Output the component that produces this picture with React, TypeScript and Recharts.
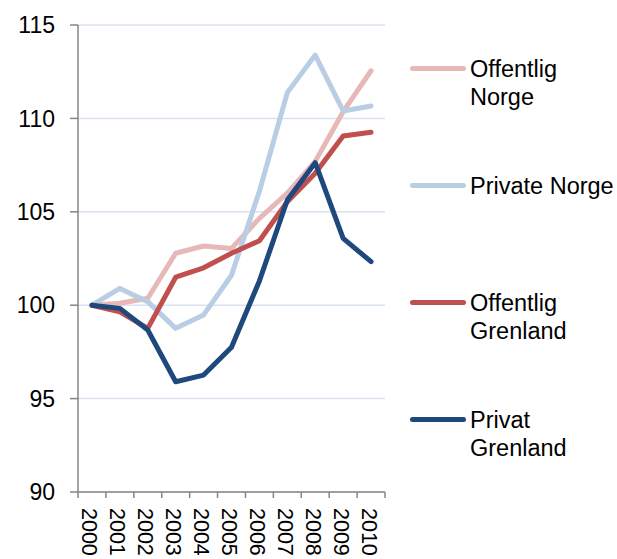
import { LineChart, Line, XAxis, YAxis, CartesianGrid, Legend } from "recharts";

const years = ["2000", "2001", "2002", "2003", "2004", "2005", "2006", "2007", "2008", "2009", "2010"];
const offentligNorge = [100, 100.1, 100.37, 102.78, 103.17, 103.04, 104.65, 106.0, 107.7, 110.36, 112.55];
const privateNorge = [100, 100.9, 100.19, 98.76, 99.48, 101.6, 106.1, 111.38, 113.39, 110.4, 110.66];
const offentligGrenland = [100, 99.65, 98.76, 101.5, 102.0, 102.78, 103.45, 105.54, 107.06, 109.06, 109.26];
const privatGrenland = [100, 99.83, 98.67, 95.9, 96.26, 97.75, 101.3, 105.63, 107.63, 103.58, 102.33];
const yTicks = [90, 95, 100, 105, 110, 115];
// tick marks sit between the years, labels sit on them
const xTicks = Array.from({ length: 23 }, (_, k) => k / 2 - 0.5);

const SERIES = [
  { key: "offNorge", name: "Offentlig Norge", color: "#e6b9b8", values: offentligNorge },
  { key: "privNorge", name: "Private Norge", color: "#b9cde5", values: privateNorge },
  { key: "offGrenland", name: "Offentlig Grenland", color: "#c0504d", values: offentligGrenland },
  { key: "privGrenland", name: "Privat Grenland", color: "#1f497d", values: privatGrenland },
];

const data = years.map((year, i) => {
  const row: Record<string, number | string> = { i, year };
  SERIES.forEach((s) => (row[s.key] = s.values[i]));
  return row;
});

const FONT = "'Liberation Sans', Arial, sans-serif";
const AXIS = "#868686";

function YearTick({ x, y, payload }: any) {
  const v = payload.value as number;
  if (!Number.isInteger(v)) {
    return <line x1={x} y1={y} x2={x} y2={y + 6} stroke={AXIS} strokeWidth={1.5} />;
  }
  return (
    <text
      transform={`translate(${x - 2},${y + 16}) rotate(90)`}
      dy="0.35em"
      fontSize={21.5}
      fontFamily={FONT}
      fill="#000"
    >
      {years[v]}
    </text>
  );
}

function LegendBox({ payload }: any) {
  const order = SERIES.map((s) => s.name);
  const items = [...(payload || [])].sort((a: any, b: any) => order.indexOf(a.value) - order.indexOf(b.value));
  return (
    <div style={{ fontFamily: FONT, fontSize: 23.5, lineHeight: "28px", color: "#000" }}>
      {items.map((p: any) => (
        <div key={p.value} style={{ height: 117, display: "flex", alignItems: "flex-start" }}>
          <div style={{ width: 56, height: 5, borderRadius: 3, background: p.color, marginTop: 11, marginRight: 4, flexShrink: 0 }} />
          <div style={{ width: 150 }}>{p.value}</div>
        </div>
      ))}
    </div>
  );
}

export default function App() {
  return (
    <div style={{ position: "absolute", left: 0, top: 0, background: "#fff" }}>
      <LineChart width={617} height={559} data={data} margin={{ top: 25, right: 232, bottom: 0, left: 0 }}>
        <CartesianGrid vertical={false} stroke="#d9e3f0" strokeWidth={1.5} />
        <XAxis
          dataKey="i"
          type="number"
          domain={[-0.5, 10.5]}
          ticks={xTicks}
          interval={0}
          height={67}
          tickSize={0}
          tickMargin={0}
          tickLine={false}
          axisLine={{ stroke: AXIS, strokeWidth: 1.5 }}
          tick={<YearTick />}
        />
        <YAxis
          type="number"
          domain={[90, 115]}
          ticks={yTicks}
          interval={0}
          width={78}
          tickSize={8}
          tickMargin={15}
          axisLine={{ stroke: AXIS, strokeWidth: 1.5 }}
          tickLine={{ stroke: AXIS, strokeWidth: 1.5 }}
          tick={{ fontSize: 23, fontFamily: FONT, fill: "#000" }}
        />
        <Legend
          layout="vertical"
          align="center"
          verticalAlign="middle"
          wrapperStyle={{ left: 410, top: 55, width: 207 }}
          content={<LegendBox />}
        />
        {SERIES.map((s) => (
          <Line
            key={s.key}
            dataKey={s.key}
            name={s.name}
            stroke={s.color}
            strokeWidth={5}
            strokeLinecap="round"
            strokeLinejoin="round"
            dot={false}
            activeDot={false}
            isAnimationActive={false}
          />
        ))}
      </LineChart>
    </div>
  );
}
